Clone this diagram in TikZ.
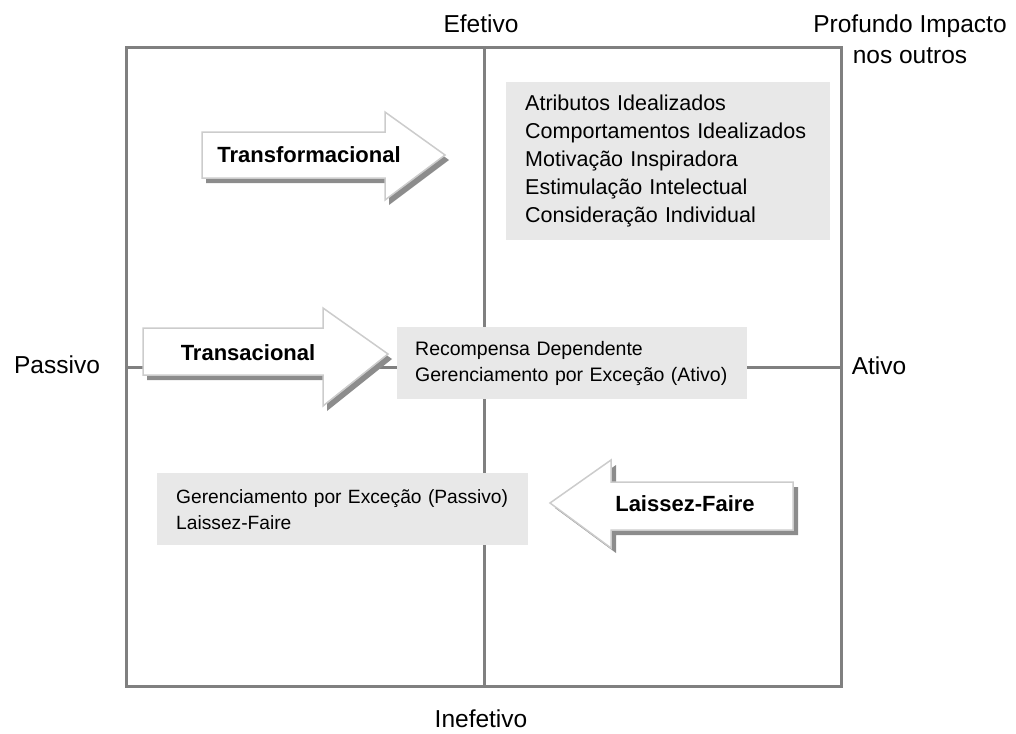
\documentclass[tikz,border=0pt]{standalone}
\usepackage{fontspec}
\setmainfont{Liberation Sans}
\usetikzlibrary{calc}

\begin{document}
\begin{tikzpicture}[x=1pt, y=-1pt,
  axisline/.style={draw=gray, line width=3pt},
  quadbox/.style={fill=gray!18, anchor=north west, align=left, inner ysep=0pt},
  arrowfill/.style={fill=white, draw=gray!40, line width=1.5pt, line join=miter},
  arrowshadow/.style={fill=gray!90},
  axislabel/.style={font=\fontsize{24.5}{31}\selectfont, align=center, inner sep=0pt},
  arrowlabel/.style={font=\fontsize{22}{25}\selectfont\bfseries, inner sep=0pt}]

  \useasboundingbox (0,0) rectangle (1016,733);

  % quadrants
  \draw[axisline] (126,48) rectangle (841,686);
  \draw[axisline] (484,48) -- (484,686);
  \draw[axisline] (126,367) -- (841,367);

  % axis labels
  \node[axislabel] (efetivo) at (481,24) {Efetivo};
  \node[axislabel] (inefetivo) at (481,719) {Inefetivo};
  \node[axislabel] (passivo) at (57,365) {Passivo};
  \node[axislabel] (ativo) at (879,366) {Ativo};
  \node[axislabel] (impacto) at (910,39) {Profundo Impacto\\nos outros};

  % factor boxes
  \node[quadbox, minimum width=324pt, minimum height=158pt, inner xsep=19pt, text width=286pt,
        font=\fontsize{21.5}{28}\selectfont] (idealbox) at (506,82)
    {Atributos Idealizados\\Comportamentos Idealizados\\Motivação Inspiradora\\Estimulação Intelectual\\Consideração Individual};
  \node[quadbox, minimum width=350pt, minimum height=72pt, inner xsep=18pt, text width=314pt,
        font=\fontsize{19.5}{26}\selectfont] (ativobox) at (397,327)
    {Recompensa Dependente\\Gerenciamento por Exceção (Ativo)};
  \node[quadbox, minimum width=371pt, minimum height=72pt, inner xsep=19pt, text width=333pt,
        font=\fontsize{19.2}{26}\selectfont] (passivobox) at (157,473)
    {Gerenciamento por Exceção (Passivo)\\Laissez-Faire};

  % Transformacional
  \fill[arrowshadow, shift={(4,5)}] (202,132) -- (385,132) -- (385,112) -- (445,155) -- (385,200) -- (385,178) -- (202,178) -- cycle;
  \filldraw[arrowfill] (202,132) -- (385,132) -- (385,112) -- (445,155) -- (385,200) -- (385,178) -- (202,178) -- cycle;
  \node[arrowlabel] (transf) at (309,155) {Transformacional};

  % Transacional
  \fill[arrowshadow, shift={(4,5)}] (143,328) -- (323,328) -- (323,308) -- (388,354) -- (323,406) -- (323,375) -- (143,375) -- cycle;
  \filldraw[arrowfill] (143,328) -- (323,328) -- (323,308) -- (388,354) -- (323,406) -- (323,375) -- (143,375) -- cycle;
  \node[arrowlabel] (transac) at (248,353) {Transacional};

  % Laissez-Faire
  \fill[arrowshadow, shift={(5,5)}] (793,482) -- (611,482) -- (611,460) -- (550,503) -- (611,548) -- (611,530) -- (793,530) -- cycle;
  \filldraw[arrowfill] (793,482) -- (611,482) -- (611,460) -- (550,503) -- (611,548) -- (611,530) -- (793,530) -- cycle;
  \node[arrowlabel] (laissez) at (685,504) {Laissez-Faire};

\end{tikzpicture}
\end{document}
